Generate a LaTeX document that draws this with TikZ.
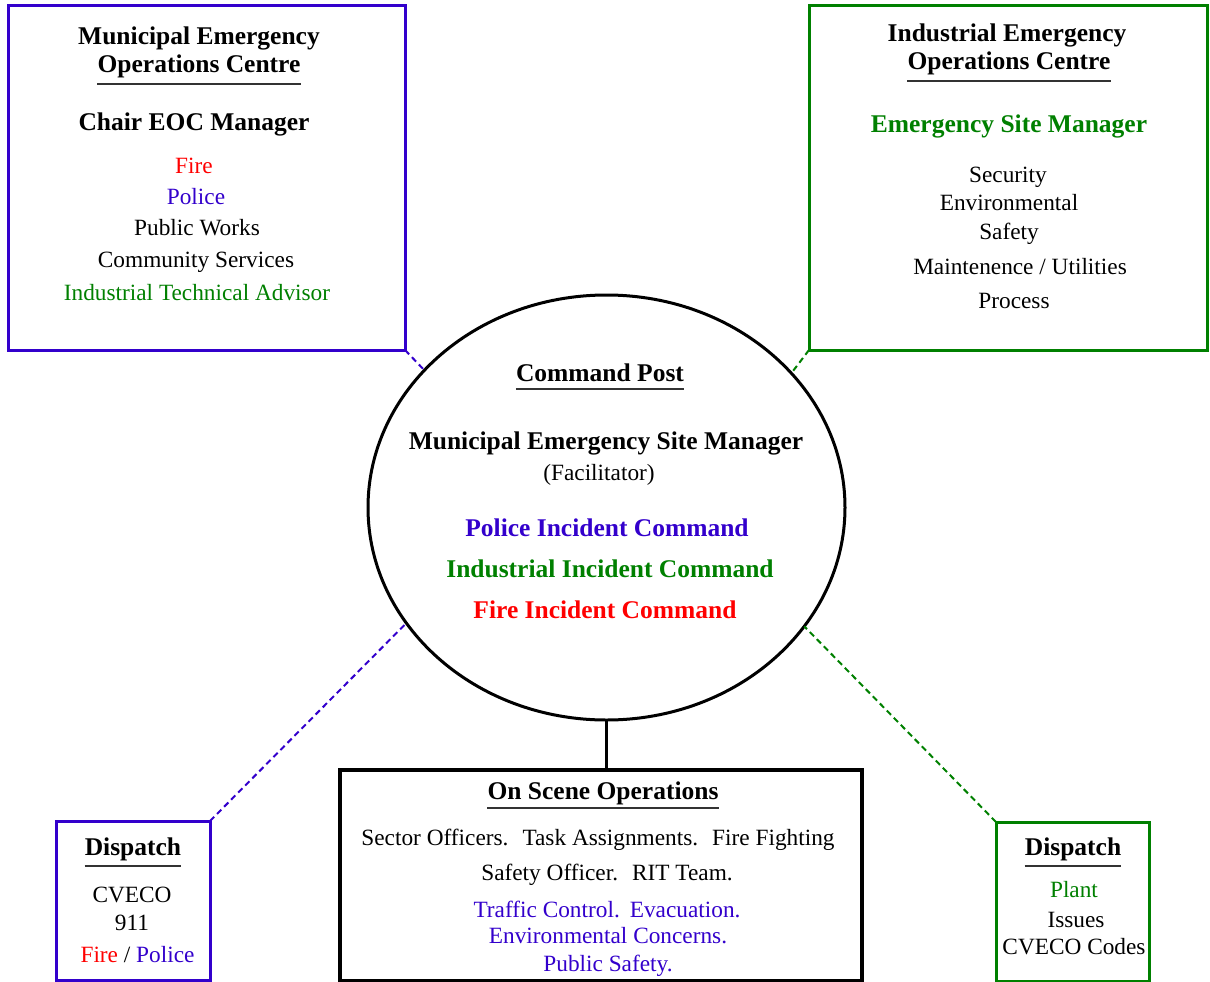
\documentclass[tikz,border=0pt]{standalone}
\usepackage{fontspec}
\setmainfont{Liberation Serif}
\usetikzlibrary{shapes.geometric}
\definecolor{pur}{RGB}{51,0,204}
\definecolor{grn}{RGB}{0,128,0}
\definecolor{rd}{RGB}{255,0,0}
\definecolor{ulc}{RGB}{51,51,51}
\newcommand{\dsp}{\hspace{14pt}}
\tikzset{
  bt/.style={anchor=base, inner sep=0pt, font=\fontsize{25.5}{30}\selectfont\bfseries},
  rt/.style={anchor=base, inner sep=0pt, font=\fontsize{23.3}{28}\selectfont},
  ul/.style={draw=ulc, line width=2pt},
  frame/.style={draw=#1, line width=3pt, inner sep=0pt, outer sep=0pt, fill=white},
  dl/.style={draw=#1, dash pattern=on 6pt off 4pt, line width=2pt}
}
\begin{document}
\begin{tikzpicture}[x=1pt,y=-1pt]
\useasboundingbox (0,0) rectangle (1210,982);
% frames
\node[frame=pur, minimum width=397pt, minimum height=344pt] (meoc) at (206.5,178) {};
\node[frame=grn, minimum width=398pt, minimum height=344pt] (ieoc) at (1008,178) {};
\node[draw=black, ellipse, line width=3pt, minimum width=477pt, minimum height=425pt, inner sep=0pt, outer sep=0pt] (cp) at (606.5,507.5) {};
\node[frame=black, line width=4pt, minimum width=522pt, minimum height=211pt] (ops) at (601,875.5) {};
\node[frame=pur, minimum width=154pt, minimum height=159pt] (dl) at (133,900.5) {};
\node[frame=grn, minimum width=153pt, minimum height=159pt] (dr) at (1072.5,901.5) {};
% connectors
\draw[dl=pur] (meoc.south east) -- (cp.143);
\draw[dl=grn] (ieoc.south west) -- (cp.36.5);
\draw[dl=pur] (dl.north east) -- (cp.210.7);
\draw[dl=grn] (dr.north west) -- (cp.-31.9);
\draw[line width=3pt] (cp.south) -- (cp.south |- ops.north);
% Municipal EOC
\node[bt] (m1) at (199,45) {Municipal Emergency};
\node[bt] (m2) at (199,73) {Operations Centre};
\draw[ul] ([yshift=-11pt]m2.base west) -- ([yshift=-11pt]m2.base east);
\node[bt] (m3) at (194,130) {Chair EOC Manager};
\node[rt, text=rd] (m4) at (194,173) {Fire};
\node[rt, text=pur] (m5) at (196,204) {Police};
\node[rt] (m6) at (197,235) {Public Works};
\node[rt] (m7) at (196,267) {Community Services};
\node[rt, text=grn] (m8) at (197,300) {Industrial Technical Advisor};
% Industrial EOC
\node[bt] (i1) at (1007,42) {Industrial Emergency};
\node[bt] (i2) at (1009,70) {Operations Centre};
\draw[ul] ([yshift=-11pt]i2.base west) -- ([yshift=-11pt]i2.base east);
\node[bt, text=grn] (i3) at (1009,132) {Emergency Site Manager};
\node[rt] (i4) at (1008,182) {Security};
\node[rt] (i5) at (1009,210) {Environmental};
\node[rt] (i6) at (1009,239) {Safety};
\node[rt] (i7) at (1020,274) {Maintenence / Utilities};
\node[rt] (i8) at (1014,308) {Process};
% Command Post
\node[bt] (c1) at (600,381) {Command Post};
\draw[ul] ([yshift=-8pt]c1.base west) -- ([yshift=-8pt]c1.base east);
\node[bt] (c2) at (606,449) {Municipal Emergency Site Manager};
\node[rt] (c3) at (599,480) {(Facilitator)};
\node[bt, text=pur] (c4) at (607,536) {Police Incident Command};
\node[bt, text=grn] (c5) at (610,577) {Industrial Incident Command};
\node[bt, text=rd] (c6) at (605,618) {Fire Incident Command};
% On Scene Operations
\node[bt] (o1) at (603,799) {On Scene Operations};
\draw[ul] ([yshift=-9pt]o1.base west) -- ([yshift=-9pt]o1.base east);
\node[rt] (o2) at (598,845) {Sector Officers.\dsp Task Assignments.\dsp Fire Fighting};
\node[rt] (o3) at (607,880) {Safety Officer.\dsp RIT Team.};
\node[rt, text=pur] (o4) at (607,917) {Traffic Control.\hspace{10pt}Evacuation.};
\node[rt, text=pur] (o5) at (608,943) {Environmental Concerns.};
\node[rt, text=pur] (o6) at (608,971) {Public Safety.};
% Dispatch left
\node[bt] (d1) at (133,855) {Dispatch};
\draw[ul] ([yshift=-11pt]d1.base west) -- ([yshift=-11pt]d1.base east);
\node[rt] (d2) at (132,902) {CVECO};
\node[rt] (d3) at (132,930) {911};
\node[rt] (d4) at (137.5,962) {\textcolor{rd}{Fire} / \textcolor{pur}{Police}};
% Dispatch right
\node[bt] (e1) at (1073,855) {Dispatch};
\draw[ul] ([yshift=-11pt]e1.base west) -- ([yshift=-11pt]e1.base east);
\node[rt, text=grn] (e2) at (1074,897) {Plant};
\node[rt] (e3) at (1076,927) {Issues};
\node[rt] (e4) at (1074,954) {CVECO Codes};
\end{tikzpicture}
\end{document}
